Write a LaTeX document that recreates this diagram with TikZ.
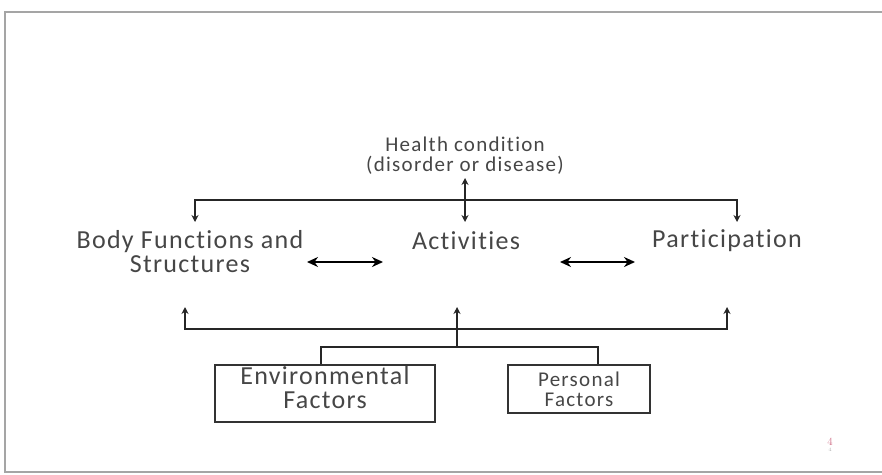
\documentclass[tikz,border=0pt]{standalone}
\usepackage{xcolor}
\usepackage{fontspec}
\usepackage{tikz}
\usetikzlibrary{arrows.meta, positioning, calc}
\newfontfamily\icffont[LetterSpace=5, Ligatures=NoCommon]{Carlito}
\newfontfamily\icfsmall[LetterSpace=6, Ligatures=NoCommon]{Carlito}
\definecolor{icftext}{RGB}{70,70,70}
\definecolor{icfframe}{RGB}{165,165,165}
\definecolor{icfpage}{RGB}{205,105,130}

\begin{document}
\begin{tikzpicture}[x=1pt, y=-1pt,
  lbl/.style={font=\icffont\fontsize{26}{24}\selectfont, text=icftext, align=center, inner sep=0pt},
  sml/.style={font=\icfsmall\fontsize{21}{20}\selectfont, text=icftext, align=center, inner sep=0pt},
  fbox/.style={rectangle, draw=black!80, line width=1.6pt, align=center, text=icftext, inner sep=0pt},
  link/.style={draw=black!85, line width=1.6pt},
  arr/.style={link, {Stealth[length=7pt, width=7pt]}-{Stealth[length=7pt, width=7pt]}},
  uparr/.style={link, -{Stealth[length=7pt, width=7pt]}},
  dbl/.style={draw=black, line width=2.6pt, {Stealth[length=11pt, width=10pt]}-{Stealth[length=11pt, width=10pt]}}
]
\useasboundingbox (0,0) rectangle (882,474);
% slide frame, open on the right
\draw[icfframe, line width=2pt] (882,12) -- (5,12) -- (5,472) -- (882,472);

% components
\node[sml] (hc) at (465,156) {Health condition\\(disorder or disease)};
\node[lbl] (bf) at (190,252) {Body Functions and\\Structures};
\node[lbl] (ac) at (466,241) {Activities};
\node[lbl] (pa) at (727,241) {Participation};
\node[fbox, minimum width=220, minimum height=57, text depth=12pt, font=\icffont\fontsize{26}{24}\selectfont] (env) at (325,393.5) {Environmental\\Factors};
\node[fbox, minimum width=142, minimum height=48, font=\icfsmall\fontsize{21}{20}\selectfont] (pf) at (579,389) {Personal\\Factors};

% page number
\node[font=\fontsize{11}{11}\selectfont, text=icfpage, inner sep=0pt] (pg) at (830,442) {4};
\node[font=\fontsize{5}{5}\selectfont, text=black!30, inner sep=0pt, below=2pt of pg] (pgs) {4};

% junction points
\coordinate (hcTop) at (465,178);
\coordinate (hcBot) at (465,222);
\coordinate (tl) at (195,200);
\coordinate (tr) at (737,200);
\coordinate (bfIn) at (195,222);
\coordinate (paIn) at (737,222);
\coordinate (bl) at (185,329);
\coordinate (br) at (727,329);
\coordinate (bfUp) at (185,307);
\coordinate (paUp) at (727,307);
\coordinate (acUp) at (457,307);
\coordinate (fork) at (457,347);
\coordinate (bfR) at (307,262);
\coordinate (acL) at (383,262);
\coordinate (acR) at (560,262);
\coordinate (paL) at (635,262);

% health condition links
\draw[arr] (hcTop) -- (hcBot);
\draw[arr] (bfIn) -- (tl) -- (tr) -- (paIn);

% interactions
\draw[dbl] (bfR) -- (acL);
\draw[dbl] (acR) -- (paL);

% contextual factors
\draw[arr] (bfUp) -- (bl) -- (br) -- (paUp);
\draw[uparr] (fork) -- (acUp);
\draw[link] ([xshift=-4pt]env.north) |- (fork) -| ([xshift=19pt]pf.north);
\end{tikzpicture}
\end{document}
